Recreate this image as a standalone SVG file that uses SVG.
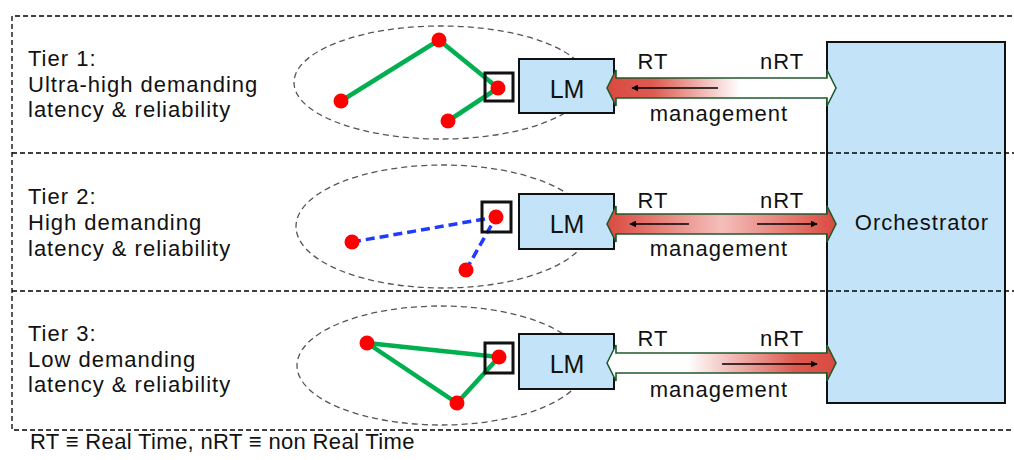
<svg xmlns="http://www.w3.org/2000/svg" width="1014" height="460" viewBox="0 0 1014 460">
  <style>
    text { font-family: "Liberation Sans", "Open Sans", sans-serif; fill: #111; }
    .lbl { font-size: 22px; letter-spacing: 1px; }
    .note { font-size: 22px; letter-spacing: 0.35px; }
    .frame { fill: none; stroke: #000; stroke-width: 1.3; stroke-dasharray: 5 3; }
    .cluster { fill: none; stroke: #555; stroke-width: 1.3; stroke-dasharray: 6 4; }
    .box { fill: #C3E4F8; stroke: #111; stroke-width: 2; }
    .sel { fill: none; stroke: #111; stroke-width: 3; }
    .dot { fill: #FF0000; }
    .solid { fill: none; stroke: #00B050; stroke-width: 4.5; stroke-linecap: round; }
    .dash { fill: none; stroke: #1F3BFF; stroke-width: 3.5; stroke-dasharray: 9 5; }
    .band { stroke: #1E5A2C; stroke-width: 1.6; stroke-linejoin: miter; }
    .tick { stroke: #000; stroke-width: 1.5; marker-end: url(#head); }
  </style>
  <defs>
    <marker id="head" viewBox="0 0 10 10" refX="9" refY="5" markerWidth="7" markerHeight="7" markerUnits="userSpaceOnUse" orient="auto">
      <path d="M0,0 L10,5 L0,10 z" fill="#000"/>
    </marker>
    <linearGradient id="gRT" x1="0" y1="0" x2="1" y2="0">
      <stop offset="0" stop-color="#D94A40"/>
      <stop offset="0.2" stop-color="#DD5A50"/>
      <stop offset="0.58" stop-color="#FFFFFF"/>
      <stop offset="1" stop-color="#FFFFFF"/>
    </linearGradient>
    <linearGradient id="gBoth" x1="0" y1="0" x2="1" y2="0">
      <stop offset="0" stop-color="#D94A40"/>
      <stop offset="0.5" stop-color="#F5BEBA"/>
      <stop offset="1" stop-color="#D94A40"/>
    </linearGradient>
    <linearGradient id="gNRT" x1="0" y1="0" x2="1" y2="0">
      <stop offset="0" stop-color="#FFFFFF"/>
      <stop offset="0.35" stop-color="#FFFFFF"/>
      <stop offset="0.82" stop-color="#DD5A50"/>
      <stop offset="1" stop-color="#D94A40"/>
    </linearGradient>
  </defs>

  <rect width="1014" height="460" fill="#FFFFFF"/>

  <!-- orchestrator column -->
  <g id="orchestrator">
    <rect class="box" x="827" y="42" width="178" height="361"/>
    <text class="lbl" x="922" y="230" text-anchor="middle">Orchestrator</text>
  </g>

  <!-- tier frame -->
  <g id="frame">
    <path class="frame" d="M1020,16 H12 V430 H1020"/>
    <line class="frame" x1="12" y1="153" x2="1020" y2="153"/>
    <line class="frame" x1="12" y1="291" x2="1020" y2="291"/>
  </g>

  <!-- Tier 1 -->
  <g id="tier1">
    <text class="lbl" x="28" y="66">Tier 1:</text>
    <text class="lbl" x="28" y="92">Ultra-high demanding</text>
    <text class="lbl" x="28" y="117">latency &amp; reliability</text>
    <ellipse class="cluster" cx="441" cy="82.5" rx="147" ry="56.5"/>
    <polyline class="solid" points="341,101 439,40 498,88"/>
    <line class="solid" x1="448" y1="121" x2="498" y2="88"/>
    <rect class="sel" x="485" y="73" width="28" height="28"/>
    <circle class="dot" cx="341" cy="101" r="7.5"/>
    <circle class="dot" cx="439" cy="40" r="7.5"/>
    <circle class="dot" cx="448" cy="121" r="7.5"/>
    <circle class="dot" cx="498" cy="88" r="7.5"/>
  </g>
  <g id="lm1">
    <rect class="box" x="519" y="59" width="95" height="54"/>
    <text x="567" y="98" font-size="25" text-anchor="middle">LM</text>
  </g>

  <!-- Tier 2 -->
  <g id="tier2">
    <text class="lbl" x="28" y="204">Tier 2:</text>
    <text class="lbl" x="28" y="230">High demanding</text>
    <text class="lbl" x="28" y="256">latency &amp; reliability</text>
    <ellipse class="cluster" cx="443" cy="226.5" rx="147" ry="61.5"/>
    <line class="dash" x1="352" y1="242" x2="496" y2="217"/>
    <line class="dash" x1="466" y1="270" x2="496" y2="217"/>
    <rect class="sel" x="482" y="202" width="29" height="30"/>
    <circle class="dot" cx="352" cy="242" r="7.5"/>
    <circle class="dot" cx="466" cy="270" r="7.5"/>
    <circle class="dot" cx="496" cy="217" r="7.5"/>
  </g>
  <g id="lm2">
    <rect class="box" x="519" y="194" width="95" height="55"/>
    <text x="567" y="233" font-size="25" text-anchor="middle">LM</text>
  </g>

  <!-- Tier 3 -->
  <g id="tier3">
    <text class="lbl" x="28" y="341">Tier 3:</text>
    <text class="lbl" x="28" y="367">Low demanding</text>
    <text class="lbl" x="28" y="392">latency &amp; reliability</text>
    <ellipse class="cluster" cx="441" cy="365.5" rx="144" ry="59.5"/>
    <polygon class="solid" points="367,343 499,357 457,403"/>
    <rect class="sel" x="485" y="343" width="28" height="30"/>
    <circle class="dot" cx="367" cy="343" r="7.5"/>
    <circle class="dot" cx="457" cy="403" r="7.5"/>
    <circle class="dot" cx="499" cy="357" r="7.5"/>
  </g>
  <g id="lm3">
    <rect class="box" x="519" y="334" width="95" height="55"/>
    <text x="567" y="373" font-size="25" text-anchor="middle">LM</text>
  </g>

  <!-- LM <-> orchestrator links -->
  <g id="connectors">
    <polygon class="band" fill="url(#gRT)" points="607,88 616,70 616,78 827,78 827,70 836,88 827,106 827,98 616,98 616,106"/>
    <line class="tick" x1="718" y1="88" x2="632" y2="88"/>
    <text class="lbl" x="653" y="69" text-anchor="middle">RT</text>
    <text class="lbl" x="782" y="69" text-anchor="middle">nRT</text>
    <text class="lbl" x="719" y="121" text-anchor="middle">management</text>

    <polygon class="band" fill="url(#gBoth)" points="607,224 616,206 616,214 827,214 827,206 836,224 827,242 827,234 616,234 616,242"/>
    <line class="tick" x1="689" y1="224" x2="630" y2="224"/>
    <line class="tick" x1="757" y1="224" x2="817" y2="224"/>
    <text class="lbl" x="653" y="208" text-anchor="middle">RT</text>
    <text class="lbl" x="782" y="208" text-anchor="middle">nRT</text>
    <text class="lbl" x="719" y="256" text-anchor="middle">management</text>

    <polygon class="band" fill="url(#gNRT)" points="607,363 616,345 616,353 827,353 827,345 836,363 827,381 827,373 616,373 616,381"/>
    <line class="tick" x1="722" y1="364" x2="817" y2="364"/>
    <text class="lbl" x="653" y="346" text-anchor="middle">RT</text>
    <text class="lbl" x="782" y="346" text-anchor="middle">nRT</text>
    <text class="lbl" x="719" y="397" text-anchor="middle">management</text>
  </g>

  <text class="note" x="30" y="449">RT ≡ Real Time, nRT ≡ non Real Time</text>
</svg>
